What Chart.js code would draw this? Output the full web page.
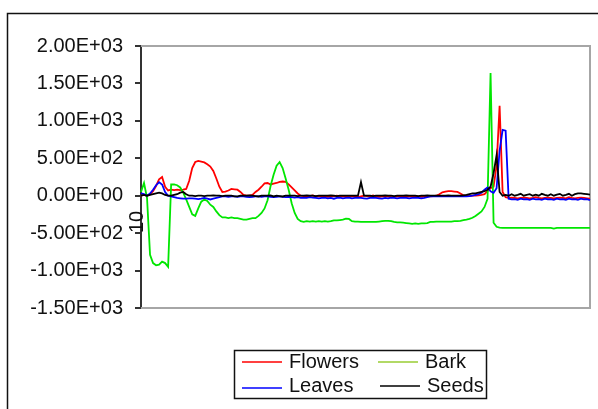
<!DOCTYPE html>
<html>
<head>
<meta charset="utf-8">
<script src="https://cdn.jsdelivr.net/npm/chart.js@4"></script>
<style>
  body { margin: 0; background: #fff; }
</style>
</head>
<body>
<canvas id="myChart" width="598" height="409"></canvas>
<script>
  // readings, one per sample, left to right
  const flowers = [
    0, 10, 0, 20, 60, 130, 220, 250, 120, 70,
    80, 75, 80, 75, 80, 90, 200, 370, 450, 465,
    455, 445, 420, 390, 330, 230, 120, 50, 55, 70,
    90, 85, 80, 50, 10, 0, 0, 10, 50, 80,
    120, 165, 170, 150, 160, 170, 185, 190, 185, 150,
    110, 70, 30, 0, -5, -10, -5, 5, -10, -5,
    -10, -5, -15, -10, -5, 0, -10, -5, -15, -10,
    -5, -10, -20, -10, 0, -5, -10, 5, -10, -15,
    -10, -5, -10, -20, -15, -10, -5, -10, -15, -10,
    -10, -5, -10, -15, -10, -5, -10, -5, 0, 20,
    45, 55, 60, 60, 55, 50, 30, 5, 0, -5,
    0, 0, 5, 10, 20, 60, 100, 120, 400, 1200,
    50, -20, -30, -25, -30, -35, -30, -25, -30, -35,
    -30, -20, -30, -35, -30, -25, -30, -35, -30, -25,
    -30, -35, -20, -30, -35, -30, -25, -30, -35, -40
  ];
  const bark = [
    50, 170, -30, -790, -900, -930, -920, -880, -900, -950,
    150, 150, 140, 110, 40, -50, -150, -250, -270, -170,
    -80, -50, -70, -120, -150, -210, -260, -290, -290, -300,
    -290, -300, -300, -310, -320, -320, -310, -300, -300, -270,
    -230, -170, -60, 130, 280, 400, 450, 370, 230, 80,
    -100, -230, -310, -340, -350, -340, -345, -340, -345, -340,
    -345, -340, -345, -340, -330, -330, -325, -320, -305, -310,
    -340, -345, -345, -350, -350, -350, -350, -350, -350, -345,
    -340, -335, -335, -340, -350, -355, -355, -360, -365, -370,
    -375, -370, -375, -370, -370, -365, -350, -350, -345, -345,
    -345, -345, -345, -345, -340, -340, -335, -325, -320, -310,
    -295, -270, -240, -210, -150, -40, 1640, -360, -415, -425,
    -430, -430, -430, -430, -430, -430, -430, -430, -430, -430,
    -430, -430, -430, -430, -430, -430, -430, -440, -430, -430,
    -430, -430, -430, -430, -430, -430, -430, -430, -430, -430
  ];
  const leaves = [
    30, 20, 0, 30, 80, 140, 180, 150, 50, 0,
    -10, -20, -30, -35, -40, -40, -35, -35, -40, -45,
    -40, -30, -40, -50, -40, -30, -20, -10, -10, -15,
    -10, -10, -15, -10, -10, -15, -20, -15, -10, -10,
    -15, -10, -10, -15, -20, -15, -10, -15, -20, -15,
    -20, -25, -20, -30, -25, -30, -20, -25, -30, -35,
    -30, -25, -35, -30, -40, -30, -25, -35, -30, -25,
    -35, -30, -25, -30, -35, -40, -30, -25, -30, -35,
    -40, -30, -35, -25, -30, -35, -30, -25, -30, -35,
    -30, -25, -30, -35, -30, -20, -10, -5, -10, -5,
    -10, -5, -10, -5, -10, -5, -10, -5, -10, -5,
    0, 10, 20, 40, 80, 110, 60, 40, 100, 600,
    880, 870, -40, -50, -45, -55, -40, -50, -45, -55,
    -40, -50, -45, -55, -40, -50, -45, -55, -40, -50,
    -45, -55, -40, -50, -45, -55, -40, -50, -45, -60
  ];
  const seeds = [
    0, 10, 0, 10, 20, 30, 40, 30, 10, 0,
    0, 10, 20, 40, 50, 20, 0, 0, -5, 0,
    0, -5, 0, 0, 5, 0, 0, -5, 0, 0,
    0, -10, -10, 0, 0, 0, 5, 0, -5, -10,
    0, 0, 0, 5, -10, 0, -5, -10, 0, 0,
    0, 0, -5, 0, 0, 5, 0, 0, -5, 0,
    0, 0, 0, 5, 0, -5, 0, 0, 0, 0,
    0, 0, 0, 180, 0, 0, 0, -5, 0, 0,
    0, 5, 0, 0, -5, 0, 0, 0, 5, 0,
    0, 0, -5, 0, 0, 5, 0, 0, 0, 0,
    0, 0, 5, 0, 0, 0, 0, 5, 10, 20,
    30, 30, 40, 50, 60, 80, 120, 300, 540, 50,
    0, 10, 0, 20, 0, 10, 25, 0, 10, 20,
    0, 15, 0, 25, 10, 0, 20, 0, 15, 25,
    0, 10, 25, 0, 20, 30, 30, 25, 20, 15
  ];
  const yTicks = [2000, 1500, 1000, 500, 0, -500, -1000, -1500];
  const samples = flowers.map((v, i) => i + 1);

  const font = 'Liberation Sans, Arial, sans-serif';

  // excel style 2.00E+03
  function sci(v) {
    if (v === 0) return '0.00E+00';
    const e = Math.floor(Math.log10(Math.abs(v)));
    const m = v / Math.pow(10, e);
    return m.toFixed(2) + 'E' + (e < 0 ? '-' : '+') + String(Math.abs(e)).padStart(2, '0');
  }

  const frame = {
    id: 'frame',
    beforeDraw(chart) {
      const c = chart.ctx;
      c.save();
      c.fillStyle = '#fff';
      c.fillRect(0, 0, chart.width, chart.height);
      c.strokeStyle = '#111';
      c.lineWidth = 1.5;
      c.strokeRect(7.5, 13.5, 700, 500);
      c.restore();
    },
    beforeDatasetsDraw(chart) {
      const a = chart.chartArea;
      const c = chart.ctx;
      c.save();
      c.strokeStyle = '#a6a6a6';
      c.lineWidth = 2;
      c.beginPath();
      c.moveTo(a.left, a.top);
      c.lineTo(a.right, a.top);
      c.lineTo(a.right, a.bottom);
      c.lineTo(a.left, a.bottom);
      c.stroke();
      c.restore();
    },
    afterDraw(chart) {
      const c = chart.ctx;
      const ds = chart.data.datasets;
      c.save();
      // legend box
      c.strokeStyle = '#111';
      c.lineWidth = 1.5;
      c.strokeRect(234.5, 350.5, 252, 48);
      const items = [
        { d: ds[0], x: 242, y: 362, ty: 362 },
        { d: ds[1], x: 378, y: 362, ty: 362, color: '#99cc33' },
        { d: ds[2], x: 242, y: 388, ty: 386 },
        { d: ds[3], x: 380, y: 386, ty: 386 }
      ];
      c.font = '20px ' + font;
      c.textBaseline = 'middle';
      c.fillStyle = '#111';
      items.forEach(it => {
        c.strokeStyle = it.color || it.d.borderColor;
        c.lineWidth = 1.5;
        c.beginPath();
        c.moveTo(it.x, it.y);
        c.lineTo(it.x + 40, it.y);
        c.stroke();
        c.fillText(it.d.label, it.x + 47, it.ty);
      });
      // stray rotated label by the axis
      c.translate(137, 222);
      c.rotate(-Math.PI / 2);
      c.textAlign = 'center';
      c.fillText('10', 0, 0);
      c.restore();
    }
  };

  new Chart(document.getElementById('myChart'), {
    type: 'line',
    data: {
      labels: samples,
      datasets: [
        { label: 'Flowers', data: flowers, borderColor: 'rgb(255, 0, 0)', order: 4 },
        { label: 'Bark', data: bark, borderColor: 'rgb(0, 230, 0)', order: 3 },
        { label: 'Leaves', data: leaves, borderColor: 'rgb(0, 0, 255)', order: 2 },
        { label: 'Seeds', data: seeds, borderColor: 'rgb(0, 0, 0)', order: 1 }
      ]
    },
    options: {
      responsive: false,
      animation: false,
      layout: { padding: { left: 0, top: 46, right: 8, bottom: 101 } },
      elements: {
        point: { radius: 0 },
        line: { borderWidth: 1.8, tension: 0 }
      },
      plugins: {
        legend: { display: false },
        tooltip: { enabled: false }
      },
      scales: {
        x: { display: false, offset: false },
        y: {
          min: -1500,
          max: 2000,
          afterBuildTicks(s) { s.ticks = yTicks.map(v => ({ value: v })); },
          afterFit(s) { s.width = 141; },
          grid: { drawOnChartArea: false, tickLength: 6, color: '#333', lineWidth: 2 },
          border: { display: true, color: '#333', width: 2 },
          ticks: {
            padding: 12,
            color: '#111',
            font: { family: font, size: 20 },
            callback: v => sci(v)
          }
        }
      }
    },
    plugins: [frame]
  });
</script>
</body>
</html>
